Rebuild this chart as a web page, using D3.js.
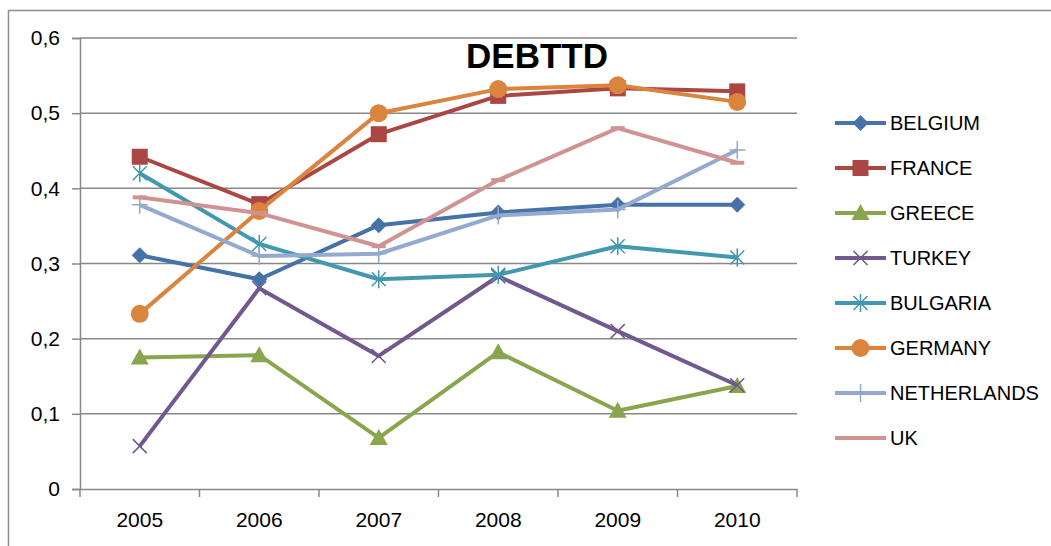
<!DOCTYPE html>
<html>
<head>
<meta charset="utf-8">
<script src="https://cdn.jsdelivr.net/npm/d3@7"></script>
<style>
  html, body { margin: 0; padding: 0; background: #fff; }
  svg { display: block; }
  text { font-family: "Liberation Sans", Arial, sans-serif; fill: #000; }
</style>
</head>
<body>
<svg id="chart" width="1051" height="546"></svg>
<script>
// Years on the category axis
const years = ["2005", "2006", "2007", "2008", "2009", "2010"];

// Country series
const belgium     = [0.311, 0.279, 0.351, 0.368, 0.378, 0.378];
const france      = [0.442, 0.379, 0.472, 0.523, 0.533, 0.529];
const greece      = [0.175, 0.178, 0.068, 0.182, 0.104, 0.137];
const turkey      = [0.057, 0.267, 0.177, 0.283, 0.210, 0.138];
const bulgaria    = [0.420, 0.326, 0.279, 0.285, 0.323, 0.308];
const germany     = [0.233, 0.370, 0.500, 0.532, 0.537, 0.515];
const netherlands = [0.378, 0.310, 0.313, 0.364, 0.372, 0.451];
const uk          = [0.388, 0.367, 0.323, 0.411, 0.480, 0.434];

const seriesNames = ["BELGIUM", "FRANCE", "GREECE", "TURKEY", "BULGARIA", "GERMANY", "NETHERLANDS", "UK"];
const seriesValues = [belgium, france, greece, turkey, bulgaria, germany, netherlands, uk];
const seriesColors = ["#4572A7", "#AA4643", "#89A54E", "#71588F", "#4198AF", "#DB843D", "#93A9CF", "#D19392"];
const seriesMarkers = ["diamond", "square", "triangle", "x", "star", "circle", "plus", "dash"];

const yTicks = [0, 0.1, 0.2, 0.3, 0.4, 0.5, 0.6];
const chartTitle = "DEBTTD";

const svg = d3.select("#chart");
const gridColor = "#888888";

// Outer chart frame (extends past the right and bottom edges)
svg.append("path")
  .attr("d", "M8.5,560 L8.5,10.5 L1060,10.5")
  .attr("fill", "none")
  .attr("stroke", "#8c8c8c")
  .attr("stroke-width", 1.5);

const plot = { left: 80, right: 797, top: 38, bottom: 489 };

const x = d3.scaleBand().domain(years).range([plot.left, plot.right]).padding(0);
const y = d3.scaleLinear().domain([0, 0.6]).range([plot.bottom, plot.top]);
const cx = d => x(d) + x.bandwidth() / 2;

// Horizontal gridlines
svg.append("g")
  .selectAll("line")
  .data(yTicks.filter(t => t > 0))
  .join("line")
  .attr("x1", plot.left).attr("x2", plot.right)
  .attr("y1", d => y(d)).attr("y2", d => y(d))
  .attr("stroke", gridColor).attr("stroke-width", 1.5);

// Y axis
const yAxis = svg.append("g")
  .attr("transform", `translate(${plot.left},0)`)
  .call(d3.axisLeft(y).tickValues(yTicks).tickSize(8).tickPadding(12)
    .tickFormat(d => d3.format(".1~f")(d).replace(".", ",")));
yAxis.select(".domain").attr("stroke", gridColor).attr("stroke-width", 1.5);
yAxis.selectAll(".tick line").attr("stroke", gridColor).attr("stroke-width", 1.5);
yAxis.selectAll(".tick text")
  .attr("font-size", 21).attr("font-family", "Liberation Sans, Arial, sans-serif").attr("fill", "#000");

// X axis: ticks sit on category boundaries
const xAxis = svg.append("g")
  .attr("transform", `translate(0,${plot.bottom})`)
  .call(d3.axisBottom(x).tickSize(0).tickPadding(23));
xAxis.select(".domain").attr("stroke", gridColor).attr("stroke-width", 1.5);
xAxis.selectAll(".tick text")
  .attr("font-size", 21).attr("font-family", "Liberation Sans, Arial, sans-serif").attr("fill", "#000");
const boundaries = years.map(d => x(d)).concat([plot.right]);
xAxis.selectAll(".bound")
  .data(boundaries)
  .join("line")
  .attr("class", "bound")
  .attr("x1", d => d).attr("x2", d => d)
  .attr("y1", 0).attr("y2", 8)
  .attr("stroke", gridColor).attr("stroke-width", 1.5);

// Marker drawing
function drawMarker(g, type, color) {
  switch (type) {
    case "diamond":
      g.append("path").attr("d", "M0,-8 L8,0 L0,8 L-8,0 Z").attr("fill", color);
      break;
    case "square":
      g.append("rect").attr("x", -8).attr("y", -8).attr("width", 16).attr("height", 16).attr("fill", color);
      break;
    case "triangle":
      g.append("path").attr("d", "M0,-9 L9,7 L-9,7 Z").attr("fill", color);
      break;
    case "circle":
      g.append("circle").attr("r", 9).attr("fill", color);
      break;
    case "x":
      g.append("path").attr("d", "M-7,-7 L7,7 M-7,7 L7,-7")
        .attr("stroke", color).attr("stroke-width", 1.5).attr("fill", "none");
      break;
    case "star":
      g.append("path").attr("d", "M-7,-7 L7,7 M-7,7 L7,-7 M0,-9 L0,9")
        .attr("stroke", color).attr("stroke-width", 1.5).attr("fill", "none");
      break;
    case "plus":
      g.append("path").attr("d", "M-8,0 L8,0 M0,-9 L0,9")
        .attr("stroke", color).attr("stroke-width", 1.5).attr("fill", "none");
      break;
    case "dash":
      g.append("path").attr("d", "M-7,0 L7,0")
        .attr("stroke", color).attr("stroke-width", 4).attr("fill", "none");
      break;
  }
}

const line = d3.line().x((d, i) => cx(years[i])).y(d => y(d));

// Series lines and markers
seriesNames.forEach((name, k) => {
  const g = svg.append("g").attr("class", "series");
  g.append("path")
    .datum(seriesValues[k])
    .attr("d", line)
    .attr("fill", "none")
    .attr("stroke", seriesColors[k])
    .attr("stroke-width", 4)
    .attr("stroke-linejoin", "round");
  seriesValues[k].forEach((v, i) => {
    const m = g.append("g").attr("transform", `translate(${cx(years[i])},${y(v)})`);
    drawMarker(m, seriesMarkers[k], seriesColors[k]);
  });
});

// Title
svg.append("text")
  .attr("x", 537).attr("y", 68)
  .attr("text-anchor", "middle")
  .attr("font-size", 35).attr("font-weight", "bold")
  .text(chartTitle);

// Legend
const legend = svg.append("g");
seriesNames.forEach((name, k) => {
  const ly = 123 + k * 45;
  const g = legend.append("g");
  g.append("line")
    .attr("x1", 835).attr("x2", 886).attr("y1", ly).attr("y2", ly)
    .attr("stroke", seriesColors[k]).attr("stroke-width", 4);
  const m = g.append("g").attr("transform", `translate(860.5,${ly})`);
  if (seriesMarkers[k] !== "dash") drawMarker(m, seriesMarkers[k], seriesColors[k]);
  g.append("text")
    .attr("x", 890).attr("y", ly + 7)
    .attr("font-size", 20)
    .text(name);
});
</script>
</body>
</html>
